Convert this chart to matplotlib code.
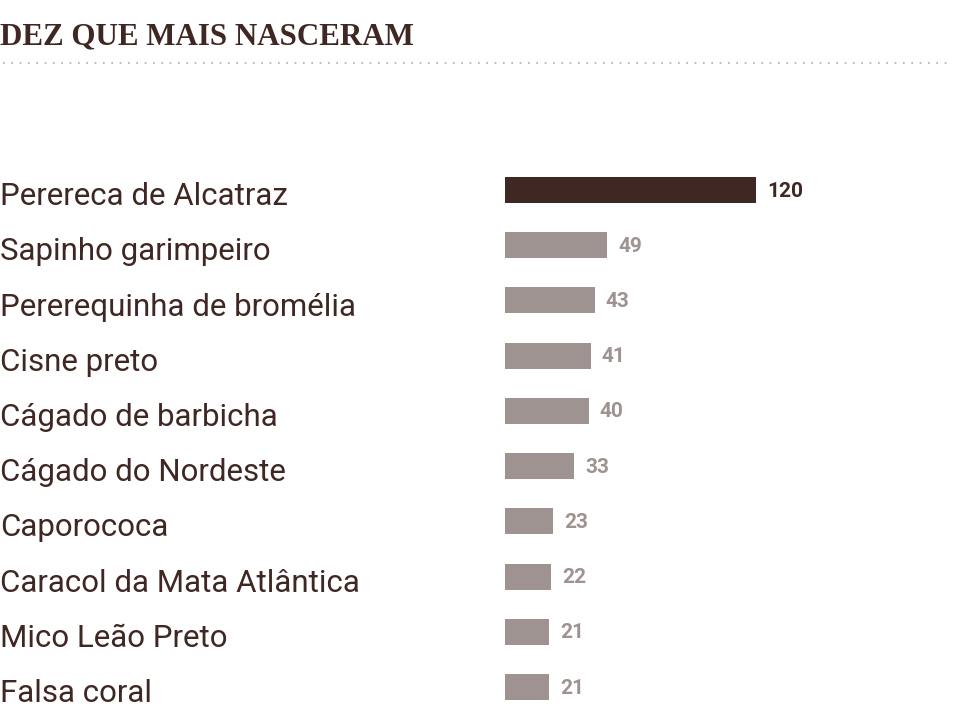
import matplotlib
matplotlib.use('Agg')
import matplotlib.pyplot as plt
from matplotlib.lines import Line2D
from matplotlib.transforms import blended_transform_factory

species = ['Perereca de Alcatraz', 'Sapinho garimpeiro', 'Pererequinha de bromélia',
           'Cisne preto', 'Cágado de barbicha', 'Cágado do Nordeste', 'Caporococa',
           'Caracol da Mata Atlântica', 'Mico Leão Preto', 'Falsa coral']
births = [120, 49, 43, 41, 40, 33, 23, 22, 21, 21]

dark = '#3f2723'
grey = '#9e9391'

fig = plt.figure(figsize=(9.56, 7.1), dpi=100)
fig.patch.set_facecolor('white')

# title + dotted rule
fig.text(0.0, 1 - 37/710, 'DEZ QUE MAIS NASCERAM', family='Liberation Serif',
         weight='bold', fontsize=22.3, color=dark, va='center', ha='left')
fig.add_artist(Line2D([0.003, 0.997], [1 - 63/710, 1 - 63/710], transform=fig.transFigure,
                      color='#b0a8a6', lw=1.2, linestyle=(0, (1, 4))))

ax = fig.add_axes([505/956, 0, 451/956, 1])
ax.set_xlim(0, 451 / (251 / 120))
ax.set_ylim(9.417, -3.44)
ax.axis('off')

colors = [dark] + [grey] * (len(births) - 1)
ypos = list(range(len(births)))
ax.barh(ypos, births, height=0.47, color=colors)

lab_tr = blended_transform_factory(fig.transFigure, ax.transData)
for i, (name, v) in enumerate(zip(species, births)):
    ax.text(v + 5.2, i + 0.02, str(v), va='center', ha='left', fontsize=15, weight='bold',
            family='Roboto', color=dark if i == 0 else grey)
    ax.text(0.0, i + 0.12, name, transform=lab_tr, va='center', ha='left',
            fontsize=22.5, family='Roboto', color=dark)

fig.savefig('out.png', dpi=100)
